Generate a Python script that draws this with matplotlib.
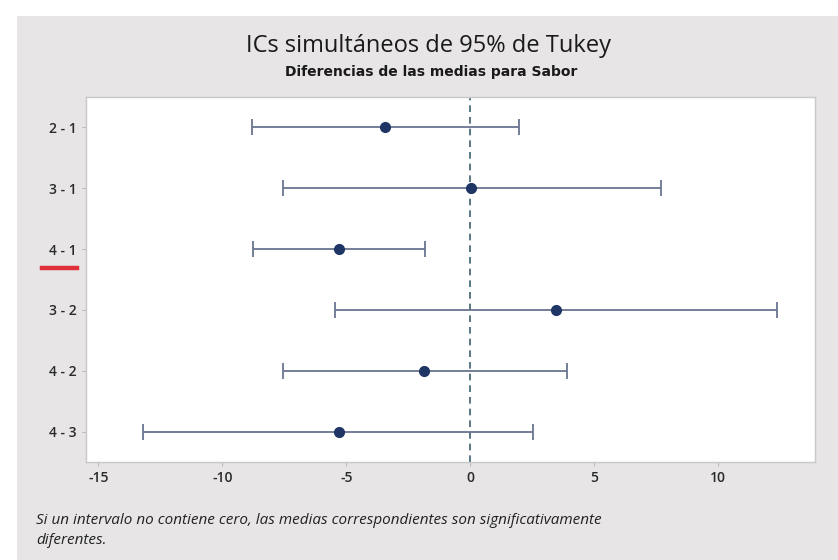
import matplotlib
matplotlib.use("Agg")
import matplotlib.pyplot as plt
from matplotlib.patches import Rectangle
from matplotlib.lines import Line2D

comparisons = ["2 - 1", "3 - 1", "4 - 1", "3 - 2", "4 - 2", "4 - 3"]
diff_means = [-3.43, 0.02, -5.29, 3.47, -1.86, -5.29]
lower = [-8.80, -7.56, -8.78, -5.45, -7.57, -13.20]
upper = [1.98, 7.70, -1.82, 12.36, 3.88, 2.53]
xticks = [-15, -10, -5, 0, 5, 10]

plt.rcParams['font.family'] = ['Open Sans', 'DejaVu Sans']

fig = plt.figure(figsize=(8.38, 5.6), dpi=100)
fig.patch.set_facecolor('white')
bg = Rectangle((17/838, 0), 1 - 17/838, 1 - 16/560, transform=fig.transFigure,
               facecolor='#e7e5e5', edgecolor='none', zorder=-10)
fig.patches.append(bg)

ax = fig.add_axes([86/838, 1 - 462/560, (815-86)/838, (462-97)/560])
ax.set_facecolor('white')

ypos = list(range(len(comparisons)))
for i, (m, lo, hi) in enumerate(zip(diff_means, lower, upper)):
    ax.errorbar([m], [i], xerr=[[m - lo], [hi - m]], fmt='o', color='#1f3566',
                ecolor='#6a7490', elinewidth=1.3, capsize=6, capthick=1.3,
                markersize=7, zorder=3)

ax.axvline(0, color='#3d6070', linestyle=(0, (4, 3)), linewidth=1.2, zorder=2)

ax.set_ylim(5.5, -0.5)
ax.set_xlim(-15.5, 13.9)
ax.set_yticks(ypos)
ax.set_yticklabels(comparisons)
ax.set_xticks(xticks)
ax.set_xticklabels([str(t) for t in xticks])
ax.tick_params(axis='both', colors='#bbbbbb', labelcolor='#2a2a2a', labelsize=10,
               length=3)
for lbl in ax.get_yticklabels() + ax.get_xticklabels():
    lbl.set_fontweight('semibold')
for s in ax.spines.values():
    s.set_color('#c8c8c8')
    s.set_linewidth(1)

fig.text(428/838, 1 - 46/560, 'ICs simultáneos de 95% de Tukey', ha='center', va='center',
         fontsize=17, color='#1a1a1a')
fig.text(431/838, 1 - 72/560, 'Diferencias de las medias para Sabor', ha='center', va='center',
         fontsize=10, fontweight='bold', color='#1a1a1a', family=['DejaVu Sans'])

fig.text(36/838, 1 - 521/560, 'Si un intervalo no contiene cero, las medias correspondientes son significativamente',
         ha='left', va='center', fontsize=11, style='italic', color='#222222')
fig.text(36/838, 1 - 541/560, 'diferentes.', ha='left', va='center', fontsize=11,
         style='italic', color='#222222')

fig.lines.append(Line2D([42/838, 77/838], [1 - 268/560, 1 - 268/560], transform=fig.transFigure,
                        color='#e0303a', linewidth=3.2))

fig.savefig('out.png', dpi=100, facecolor=fig.get_facecolor())
